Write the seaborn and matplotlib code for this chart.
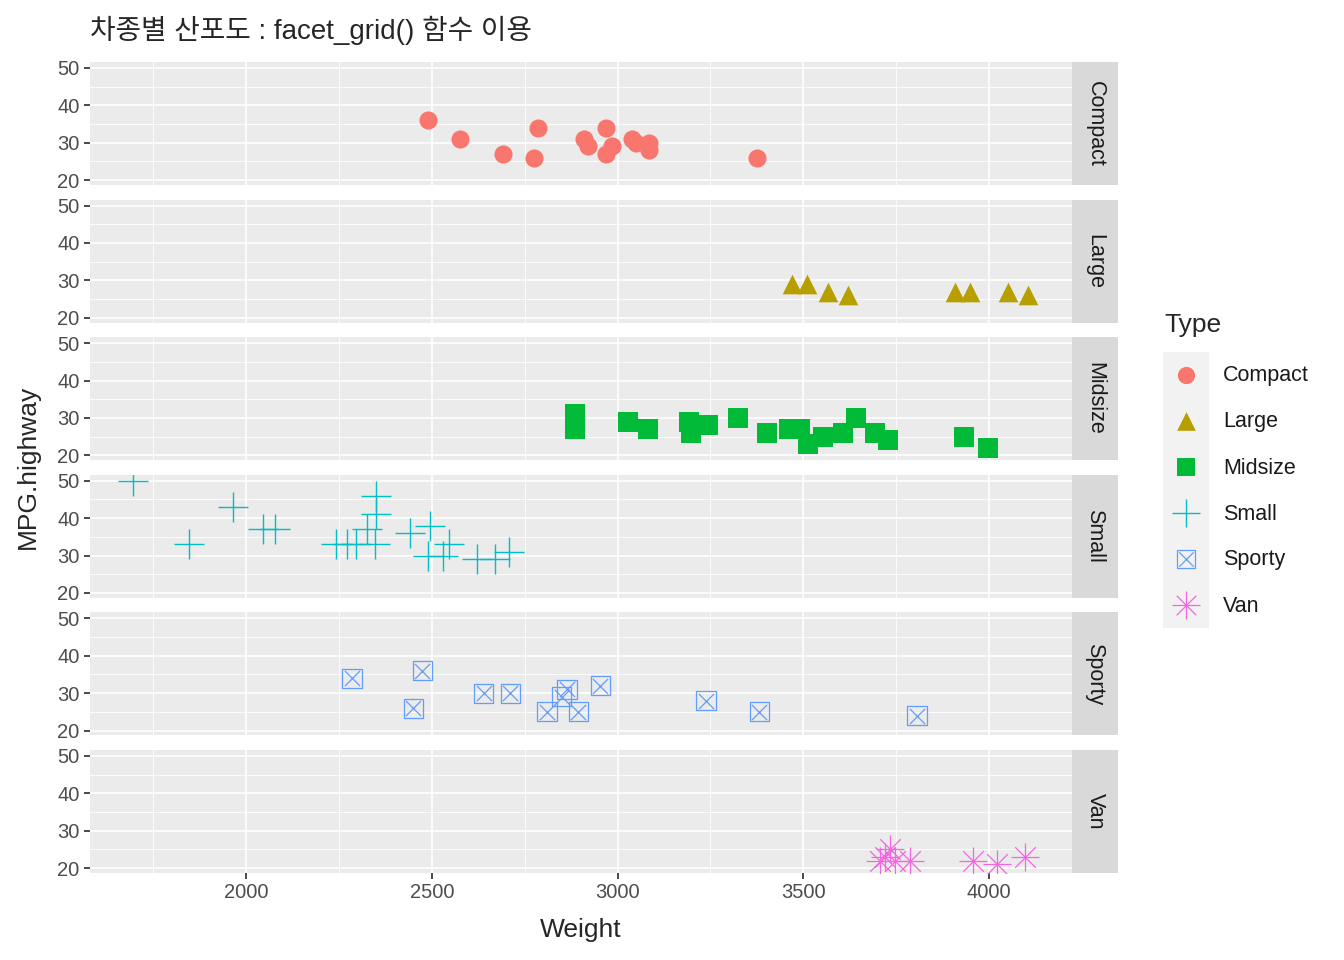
import matplotlib
matplotlib.use("Agg")
import matplotlib.pyplot as plt
import seaborn as sns
import pandas as pd

# ── Data (Cars93: Weight vs MPG.highway by Type) ─────────────────────────
compact_w = [2490, 2576, 2692, 2786, 2775, 2910, 2920, 2969, 2969, 2985, 3039, 3050, 3085, 3085, 3375]
compact_m = [36, 31, 27, 34, 26, 31, 29, 34, 27, 29, 31, 30, 30, 28, 26]
large_w = [3470, 3510, 3566, 3620, 3908, 3949, 4050, 4105]
large_m = [29, 29, 27, 26, 27, 27, 27, 26]
midsize_w = [2886, 2886, 3028, 3082, 3192, 3197, 3244, 3324, 3402, 3461, 3491, 3512, 3553,
             3607, 3642, 3693, 3728, 3933, 3997]
midsize_m = [31, 27, 29, 27, 29, 26, 28, 30, 26, 27, 27, 23, 25, 26, 30, 26, 24, 25, 22]
small_w = [1696, 1847, 1965, 2046, 2078, 2242, 2272, 2296, 2347, 2326, 2350, 2350, 2441,
           2495, 2490, 2530, 2547, 2622, 2670, 2708]
small_m = [50, 33, 43, 37, 37, 33, 33, 33, 33, 37, 46, 41, 36, 38, 30, 30, 33, 29, 29, 31]
sporty_w = [2285, 2474, 2450, 2640, 2711, 2810, 2850, 2864, 2894, 2953, 3238, 3381, 3806]
sporty_m = [34, 36, 26, 30, 30, 25, 29, 31, 25, 32, 28, 25, 24]
van_w = [3707, 3720, 3733, 3747, 3787, 3957, 4021, 4097]
van_m = [22, 23, 25, 22, 22, 22, 21, 23]

types = ["Compact", "Large", "Midsize", "Small", "Sporty", "Van"]
weights = [compact_w, large_w, midsize_w, small_w, sporty_w, van_w]
mpgs = [compact_m, large_m, midsize_m, small_m, sporty_m, van_m]
colors = ["#F8766D", "#B79F00", "#00BA38", "#00BFC4", "#619CFF", "#F564E3"]

df = pd.concat([pd.DataFrame({"Weight": w, "MPG.highway": m, "Type": t})
                for w, m, t in zip(weights, mpgs, types)], ignore_index=True)

sns.set_theme(style="white")
plt.rcParams["font.family"] = ["Liberation Sans", "Noto Sans CJK KR", "DejaVu Sans"]

W, H = 1344, 960
fig = plt.figure(figsize=(13.44, 9.6), dpi=100)


def draw_marker(ax, x, y, t, c, scale=1.0):
    kw = dict(ax=ax, x=x, y=y, legend=False, zorder=3)
    if t == "Compact":
        sns.scatterplot(**kw, color=c, marker="o", s=170 * scale, linewidth=0)
    elif t == "Large":
        sns.scatterplot(**kw, color=c, marker="^", s=200 * scale, linewidth=0)
    elif t == "Midsize":
        sns.scatterplot(**kw, color=c, marker="s", s=190 * scale, linewidth=0)
    elif t == "Small":
        sns.scatterplot(**kw, marker="+", s=480 * scale, color=c, linewidth=1.0)
    elif t == "Sporty":
        sns.scatterplot(**kw, marker="s", s=190 * scale, facecolor="none", edgecolor=c, linewidth=0.9)
        sns.scatterplot(**kw, marker="x", s=120 * scale, color=c, linewidth=0.9)
    else:
        sns.scatterplot(**kw, marker="+", s=420 * scale, color=c, linewidth=0.9)
        sns.scatterplot(**kw, marker="x", s=220 * scale, color=c, linewidth=0.9)


left, right, strip_r = 90, 1072, 1118
top0, ph, step = 62, 123, 137.6
xlim = (1580, 4223)
ylim = (18.7, 51.6)

for i, (t, c) in enumerate(zip(types, colors)):
    top = top0 + i * step
    ax = fig.add_axes([left / W, 1 - (top + ph) / H, (right - left) / W, ph / H])
    ax.set_facecolor("#EBEBEB")
    for v in [1750, 2250, 2750, 3250, 3750, 4250]:
        ax.axvline(v, color="white", lw=0.6, zorder=1)
    for v in [25, 35, 45]:
        ax.axhline(v, color="white", lw=0.6, zorder=1)
    for v in [2000, 2500, 3000, 3500, 4000]:
        ax.axvline(v, color="white", lw=1.2, zorder=1)
    for v in [20, 30, 40, 50]:
        ax.axhline(v, color="white", lw=1.2, zorder=1)
    sub = df[df.Type == t]
    draw_marker(ax, sub["Weight"].values, sub["MPG.highway"].values, t, c)
    ax.set_xlim(*xlim)
    ax.set_ylim(*ylim)
    ax.set_yticks([20, 30, 40, 50])
    ax.set_xticks([2000, 2500, 3000, 3500, 4000])
    ax.tick_params(axis="both", length=4, color="#333333", labelsize=14.5,
                   labelcolor="#4D4D4D", direction="out", left=True, bottom=(i == 5))
    if i < 5:
        ax.set_xticklabels([])
    for s in ax.spines.values():
        s.set_visible(False)
    ax.set_xlabel("")
    ax.set_ylabel("")
    # strip
    sax = fig.add_axes([right / W, 1 - (top + ph) / H, (strip_r - right) / W, ph / H])
    sax.set_facecolor("#D9D9D9")
    sax.set_xticks([]); sax.set_yticks([])
    for s in sax.spines.values():
        s.set_visible(False)
    sax.text(0.5, 0.5, t, rotation=-90, ha="center", va="center", fontsize=15.5,
             color="#1A1A1A", transform=sax.transAxes)

fig.text(90 / W, 1 - 30 / H, "차종별 산포도 : facet_grid() 함수 이용", fontsize=20,
         ha="left", va="center")
fig.text(581 / W, 1 - 930 / H, "Weight", fontsize=19, ha="center", va="center")
fig.text(28 / W, 1 - 467 / H, "MPG.highway", fontsize=19, ha="center", va="center",
         rotation=90)

# legend
fig.text(1164 / W, 1 - 325 / H, "Type", fontsize=19, ha="left", va="center")
lax = fig.add_axes([1163 / W, 1 - 628 / H, 46 / W, 276 / H])
lax.set_facecolor("#F2F2F2")
lax.set_xlim(0, 1)
lax.set_ylim(len(types) - 0.5, -0.5)
for j, (t, c) in enumerate(zip(types, colors)):
    draw_marker(lax, [0.5], [j], t, c, scale=0.9)
    fig.text(1223 / W, 1 - (376 + j * 46) / H, t, fontsize=15.5, ha="left", va="center",
             color="#1A1A1A")
lax.set_xticks([]); lax.set_yticks([])
for s in lax.spines.values():
    s.set_visible(False)

plt.savefig("out.png", dpi=100)
